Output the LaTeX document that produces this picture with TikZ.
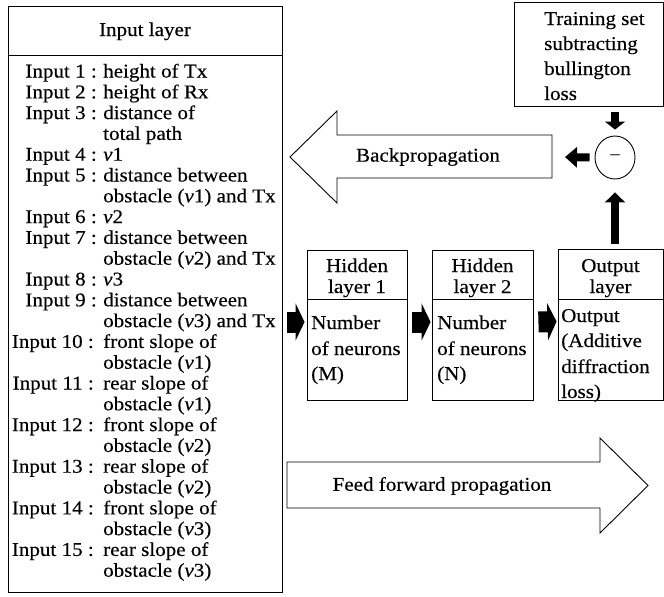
\documentclass[tikz,border=0pt]{standalone}
\usepackage{fontspec}
\setmainfont{Liberation Serif}[FakeStretch=1.08,FakeBold=0.3]
\usetikzlibrary{arrows.meta,shapes.geometric}
\begin{document}
\begin{tikzpicture}[x=1pt,y=-1pt,
  every node/.style={font=\fontsize{19.5}{23}\selectfont, inner sep=0pt},
  box/.style={draw, line width=0.9pt, line join=miter},
  lft/.style={anchor=base west},
  rgt/.style={anchor=base east},
  mid/.style={anchor=base},
  fat/.style={line width=21pt, -{Triangle[length=9pt,width=37pt]}},
  thin/.style={line width=8pt, -{Triangle[length=#1,width=20pt]}},
]
\useasboundingbox (0,0) rectangle (664,597);

% ---- input layer ----
\node[box, minimum width=274pt, minimum height=586pt] (inp) at (145,299) {};
\draw[box] (8,55) -- (282,55);
\node[mid] (inphead) at (145,36) {Input layer};
\foreach \r/\lab in {0/Input 1 :,1/Input 2 :,2/Input 3 :,4/Input 4 :,5/Input 5 :,
    7/Input 6 :,8/Input 7 :,10/Input 8 :,11/Input 9 :}
  \node[rgt] (lab\r) at (97,{77.5+20.8*\r}) {\lab};
\foreach \r/\lab in {13/Input 10 :,15/Input 11 :,17/Input 12 :,19/Input 13 :,
    21/Input 14 :,23/Input 15 :}
  \node[rgt] (lab\r) at (94,{77.5+20.8*\r}) {\lab};
\foreach \r/\txt in {0/height of Tx,1/height of Rx,2/distance of,3/total path,
    4/\textit{v}1,5/distance between,6/obstacle (\textit{v}1) and Tx,
    7/\textit{v}2,8/distance between,9/obstacle (\textit{v}2) and Tx,
    10/\textit{v}3,11/distance between,12/obstacle (\textit{v}3) and Tx,
    13/front slope of,14/obstacle (\textit{v}1),15/rear slope of,16/obstacle (\textit{v}1),
    17/front slope of,18/obstacle (\textit{v}2),19/rear slope of,20/obstacle (\textit{v}2),
    21/front slope of,22/obstacle (\textit{v}3),23/rear slope of,24/obstacle (\textit{v}3)}
  \node[lft] (row\r) at (103,{77.5+20.8*\r}) {\txt};

% ---- hidden and output layers ----
\node[box, minimum width=100pt, minimum height=150pt] (h1) at (357,325) {};
\node[box, minimum width=101pt, minimum height=150pt] (h2) at (482.5,325) {};
\node[box, minimum width=105pt, minimum height=151pt] (out) at (610.5,324.5) {};
\draw[box] (307,299) -- (407,299);
\draw[box] (432,299) -- (533,299);
\draw[box] (558,299) -- (663,299);

\node[mid] (h1a) at (357,272) {Hidden};
\node[mid] (h1b) at (357,293) {layer 1};
\node[lft] (h1c) at (311,329) {Number};
\node[lft] (h1d) at (311,355) {of neurons};
\node[lft] (h1e) at (311,380) {(M)};

\node[mid] (h2a) at (482.5,272) {Hidden};
\node[mid] (h2b) at (482.5,293) {layer 2};
\node[lft] (h2c) at (437,329) {Number};
\node[lft] (h2d) at (437,355) {of neurons};
\node[lft] (h2e) at (437,380) {(N)};

\node[mid] (oa) at (610.5,272) {Output};
\node[mid] (ob) at (610.5,293) {layer};
\node[lft] (oc) at (561,322) {Output};
\node[lft] (od) at (561,347) {(Additive};
\node[lft] (oe) at (561,373) {diffraction};
\node[lft] (of) at (561,398) {loss)};

% ---- training target and difference ----
\node[box, minimum width=149pt, minimum height=104pt] (train) at (588.5,54) {};
\node[lft] (ta) at (544,25) {Training set};
\node[lft] (tb) at (544,50) {subtracting};
\node[lft] (tc) at (544,75) {bullington};
\node[lft] (td) at (544,100) {loss};

\node[box, ellipse, minimum width=40pt, minimum height=43pt] (diff) at (615,157.5) {};
\node[font=\fontsize{18}{20}\selectfont] (minus) at (diff.center) {−};

% ---- block arrows ----
\draw[box] (290,157) -- (337,111) -- (337,135) -- (552,135) -- (552,178)
  -- (337,178) -- (337,203) -- cycle;
\coordinate (bpend) at (552,157);
\node (bp) at (428,157) {Backpropagation};

\draw[box] (648,485.5) -- (600,438) -- (600,462) -- (287,462) -- (287,508)
  -- (600,508) -- (600,533) -- cycle;
\node (ff) at (442,486) {Feed forward propagation};

% ---- black connectors ----
\draw[fat] ([xshift=5pt,yshift=3pt]inp.east |- h1.west) -- ([xshift=-2pt,yshift=3pt]h1.west);
\draw[fat] ([xshift=5pt,yshift=3pt]h1.east) -- ([xshift=-1pt,yshift=3pt]h2.west);
\draw[fat] ([xshift=5pt,yshift=3pt]h2.east) -- ([xshift=-1pt,yshift=3pt]out.west);

\draw[thin=8pt] ([yshift=-6pt]diff.north |- train.south) -- ([yshift=6pt]diff.north);
\draw[thin=12pt] ([xshift=-5pt]diff.west) -- ([xshift=13pt]bpend);
\draw[thin=10pt] ([yshift=5pt]diff.south |- out.north) -- ([yshift=-13pt]diff.south);
\end{tikzpicture}
\end{document}
